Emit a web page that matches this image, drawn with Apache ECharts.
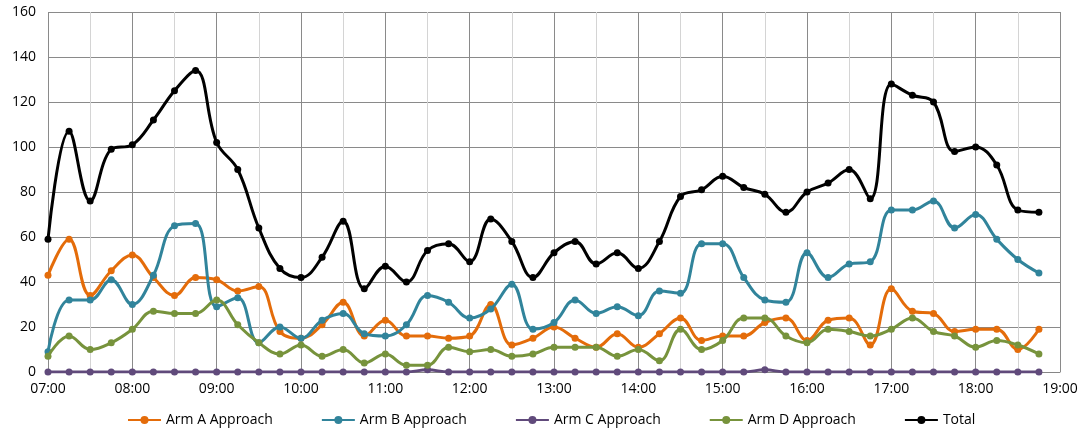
<!DOCTYPE html>
<html>
<head>
<meta charset="utf-8">
<script src="https://cdn.jsdelivr.net/npm/echarts@6/dist/echarts.min.js"></script>
<style>
  html, body { margin: 0; padding: 0; background: #fff; }
  #chart { width: 1088px; height: 440px; }
</style>
</head>
<body>
<div id="chart"></div>
<script>
// 15-minute counting intervals, 07:00 to 18:45
const times = ['07:00','07:15','07:30','07:45','08:00','08:15','08:30','08:45',
  '09:00','09:15','09:30','09:45','10:00','10:15','10:30','10:45',
  '11:00','11:15','11:30','11:45','12:00','12:15','12:30','12:45',
  '13:00','13:15','13:30','13:45','14:00','14:15','14:30','14:45',
  '15:00','15:15','15:30','15:45','16:00','16:15','16:30','16:45',
  '17:00','17:15','17:30','17:45','18:00','18:15','18:30','18:45'];

const armA = [43,59,34,45,52,42,34,42, 41,36,38,18,15,21,31,16,
  23,16,16,15,16,30,12,15, 20,15,11,17,11,17,24,14,
  16,16,22,24,14,23,24,12, 37,27,26,18,19,19,10,19];
const armB = [9,32,32,41,30,43,65,66, 29,33,13,20,15,23,26,17,
  16,21,34,31,24,28,39,19, 22,32,26,29,25,36,35,57,
  57,42,32,31,53,42,48,49, 72,72,76,64,70,59,50,44];
const armC = [0,0,0,0,0,0,0,0, 0,0,0,0,0,0,0,0,
  0,0,1,0,0,0,0,0, 0,0,0,0,0,0,0,0,
  0,0,1,0,0,0,0,0, 0,0,0,0,0,0,0,0];
const armD = [7,16,10,13,19,27,26,26, 32,21,13,8,12,7,10,4,
  8,3,3,11,9,10,7,8, 11,11,11,7,10,5,19,10,
  14,24,24,16,13,19,18,16, 19,24,18,16,11,14,12,8];
const total = [59,107,76,99,101,112,125,134, 102,90,64,46,42,51,67,37,
  47,40,54,57,49,68,58,42, 53,58,48,53,46,58,78,81,
  87,82,79,71,80,84,90,77, 128,123,120,98,100,92,72,71];

const seriesNames = ['Arm A Approach','Arm B Approach','Arm C Approach','Arm D Approach','Total'];
const seriesColors = ['#E46C0A','#31849B','#604A7B','#77933C','#000000'];
const seriesData = [armA, armB, armC, armD, total];

// clock label -> minutes since midnight
function toMinutes(t) {
  const p = t.split(':');
  return (+p[0]) * 60 + (+p[1]);
}
function pad(n) { return n < 10 ? '0' + n : '' + n; }

const chart = echarts.init(document.getElementById('chart'), null, { renderer: 'canvas' });

const font = '"Open Sans", "Noto Sans", sans-serif';

chart.setOption({
  animation: false,
  backgroundColor: '#ffffff',
  color: seriesColors,
  textStyle: { fontFamily: font },
  grid: { left: 48, right: 28, top: 12, bottom: 68, containLabel: false },
  legend: {
    bottom: 8,
    left: 122,
    itemGap: 48,
    itemWidth: 33,
    itemHeight: 10,
    textStyle: { fontFamily: font, fontSize: 14, color: '#000' },
    data: seriesNames
  },
  xAxis: {
    type: 'value',
    min: 420,
    max: 1140,
    interval: 60,
    axisLine: { show: true, lineStyle: { color: '#868686', width: 1 } },
    axisTick: { show: false },
    minorTick: { show: false, splitNumber: 2 },
    splitLine: { show: true, lineStyle: { color: '#8a8a8a', width: 1 } },
    minorSplitLine: { show: true, lineStyle: { color: '#d4d4d4', width: 1 } },
    axisLabel: {
      fontFamily: font,
      fontSize: 14,
      color: '#000',
      margin: 10,
      formatter: function (v) { return pad(Math.floor(v / 60)) + ':' + pad(v % 60); }
    }
  },
  yAxis: {
    type: 'value',
    min: 0,
    max: 160,
    interval: 20,
    axisLine: { show: false },
    axisTick: { show: false },
    splitLine: { show: true, lineStyle: { color: '#8a8a8a', width: 1 } },
    axisLabel: { fontFamily: font, fontSize: 14, color: '#000', margin: 12 }
  },
  series: seriesNames.map(function (name, i) {
    return {
      name: name,
      type: 'line',
      smooth: 0.4,
      symbol: 'circle',
      symbolSize: 7,
      z: i === 2 ? 1 : 2 + i,
      lineStyle: { width: 3, color: seriesColors[i] },
      itemStyle: { color: seriesColors[i] },
      data: times.map(function (t, k) { return [toMinutes(t), seriesData[i][k]]; })
    };
  })
});
</script>
</body>
</html>
